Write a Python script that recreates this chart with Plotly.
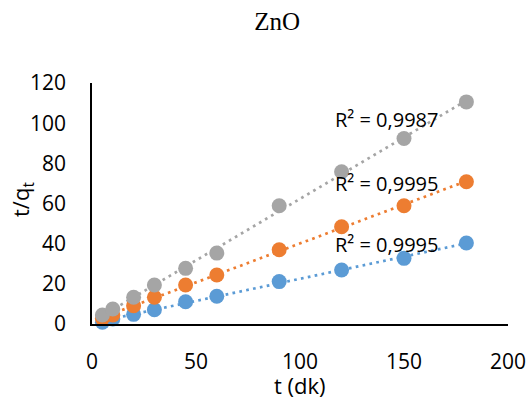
import numpy as np
import plotly.graph_objects as go

t = [5, 10, 20, 30, 45, 60, 90, 120, 150, 180]
blue = [0.9, 2.5, 4.8, 7.1, 11.1, 13.8, 21.1, 26.9, 32.7, 40.3]
orange = [2.8, 4.5, 9.1, 13.3, 19.4, 24.4, 37.0, 48.4, 58.9, 70.8]
gray = [4.5, 7.5, 13.3, 19.4, 27.7, 35.3, 58.9, 75.8, 92.4, 110.6]
r2_labels = ["R² = 0,9995", "R² = 0,9995", "R² = 0,9987"]
label_y = [39.6, 69.9, 101.7]

series = [(blue, "#5B9BD5"), (orange, "#ED7D31"), (gray, "#A5A5A5")]

fig = go.Figure()
tx = np.array(t, dtype=float)
for vals, col in series:
    m, b = np.polyfit(tx, np.array(vals), 1)
    xs = [tx.min(), tx.max()]
    fig.add_trace(go.Scatter(x=xs, y=[m * v + b for v in xs], mode="lines",
                             line=dict(color=col, width=2.7, dash="2.7px,4.3px"),
                             showlegend=False, hoverinfo="skip", cliponaxis=False))
for vals, col in series:
    fig.add_trace(go.Scatter(x=t, y=vals, mode="markers",
                             marker=dict(color=col, size=15),
                             showlegend=False, cliponaxis=False))

for txt, yy in zip(r2_labels, label_y):
    fig.add_annotation(x=116, y=yy, xref="x", yref="y", text=txt, showarrow=False,
                       xanchor="left", yanchor="middle",
                       font=dict(family="Open Sans", size=20, color="#000000"))

# axis titles
fig.add_annotation(x=0.5, y=-0.253, xref="paper", yref="paper", text="t (dk)",
                   showarrow=False, xanchor="center", yanchor="middle",
                   font=dict(family="Open Sans", size=22, color="#000000"))
fig.add_annotation(x=-0.168, y=0.515, xref="paper", yref="paper", text="t/q<sub>t</sub>",
                   showarrow=False, xanchor="center", yanchor="middle", textangle=-90,
                   font=dict(family="Open Sans", size=22, color="#000000"))

fig.update_layout(
    width=529, height=401,
    margin=dict(l=92, r=21, t=83, b=77),
    paper_bgcolor="white", plot_bgcolor="white",
    font=dict(family="Open Sans", size=21, color="#000000"),
    title=dict(text="ZnO", x=0.524, xanchor="center", y=0.948, yanchor="middle",
               font=dict(family="Liberation Serif", size=25, color="#000000")),
    xaxis=dict(range=[0, 200], tickvals=[0, 50, 100, 150, 200], showgrid=False,
               zeroline=False, showline=True, linecolor="#000000", linewidth=1.5,
               ticks="", ticklabelstandoff=18, automargin=False),
    yaxis=dict(range=[0, 120], tickvals=[0, 20, 40, 60, 80, 100, 120], showgrid=False,
               zeroline=False, showline=True, linecolor="#000000", linewidth=1.5,
               ticks="", ticklabelstandoff=20, automargin=False),
)

fig.write_html("out.html", config={"displayModeBar": False},
               post_script="document.body.style.margin='0';document.body.style.overflow='hidden';")
